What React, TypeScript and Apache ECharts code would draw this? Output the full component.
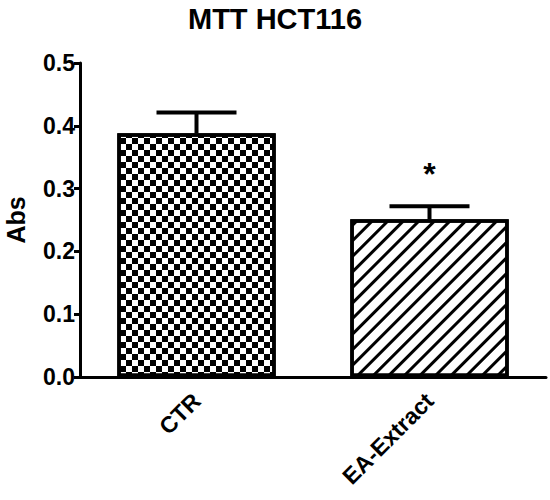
import React, { useEffect, useRef } from 'react';
import * as echarts from 'echarts';

const categories = ['CTR', 'EA-Extract'];
const means = [0.388, 0.251];
const errors = [0.033, 0.021];
const significance = ['', '*'];
const yMin = 0;
const yMax = 0.5;
const yStep = 0.1;

const FONT = '"Liberation Sans", Arial, sans-serif';

export default function App() {
  const ref = useRef<HTMLDivElement>(null);
  useEffect(() => {
    document.body.style.margin = '0';
    if (!ref.current) return;
    const chart = echarts.init(ref.current, null, { renderer: 'svg' });
    const decals = [
      {
        symbol: 'rect',
        symbolSize: 1,
        color: '#000',
        dashArrayX: [[5.5, 5.5], [0, 5.5, 5.5, 0]],
        dashArrayY: [5.5, 0],
        rotation: 0,
      },
      {
        symbol: 'rect',
        symbolSize: 1,
        color: '#000',
        dashArrayX: [1, 0],
        dashArrayY: [2.8, 8],
        rotation: -Math.PI / 4,
      },
    ];
    chart.setOption({
      animation: false,
      backgroundColor: '#fff',
      title: {
        text: 'MTT HCT116',
        left: 'center',
        top: -1,
        textStyle: { fontFamily: FONT, fontWeight: 'bold', fontSize: 29, color: '#000' },
      },
      grid: {
        left: 80,
        right: 4,
        top: 63,
        bottom: 123,
        containLabel: false,
        outerBoundsMode: 'none',
      },
      xAxis: {
        type: 'category',
        data: categories,
        axisLine: { lineStyle: { color: '#000', width: 3 } },
        axisTick: { alignWithLabel: true, length: 8, lineStyle: { color: '#000', width: 3 } },
        axisLabel: {
          rotate: 45,
          margin: 20,
          color: '#000',
          fontFamily: FONT,
          fontWeight: 'bold',
          fontSize: 23,
        },
      },
      yAxis: {
        type: 'value',
        min: yMin,
        max: yMax,
        interval: yStep,
        name: 'Abs',
        nameLocation: 'middle',
        nameGap: 52,
        nameTextStyle: { fontFamily: FONT, fontWeight: 'bold', fontSize: 25, color: '#000' },
        splitLine: { show: false },
        axisLine: { show: true, lineStyle: { color: '#000', width: 3 } },
        axisTick: { show: true, length: 6, lineStyle: { color: '#000', width: 3 } },
        axisLabel: {
          margin: 5,
          color: '#000',
          fontFamily: FONT,
          fontWeight: 'bold',
          fontSize: 23,
          formatter: (v: number) => v.toFixed(1),
        },
      },
      series: [
        {
          type: 'bar',
          barWidth: '68%',
          data: means.map((m, i) => ({
            value: m,
            itemStyle: {
              color: '#fff',
              borderColor: '#000',
              borderWidth: 3.5,
              decal: decals[i],
            },
          })),
        },
        {
          type: 'custom',
          z: 5,
          data: means.map((m, i) => [i, m, errors[i]]),
          renderItem: (params: any, api: any) => {
            const x = api.value(0);
            const m = api.value(1);
            const e = api.value(2);
            const top = api.coord([x, m + e]);
            const base = api.coord([x, m]);
            const sig = significance[params.dataIndex];
            return {
              type: 'group',
              children: [
                {
                  type: 'line',
                  shape: { x1: top[0], y1: top[1], x2: base[0], y2: base[1] },
                  style: { stroke: '#000', lineWidth: 4 },
                },
                {
                  type: 'line',
                  shape: { x1: top[0] - 40, y1: top[1], x2: top[0] + 40, y2: top[1] },
                  style: { stroke: '#000', lineWidth: 4 },
                },
                {
                  type: 'text',
                  x: top[0],
                  y: top[1] - 32,
                  style: {
                    text: sig,
                    fill: '#000',
                    font: `bold 32px ${FONT}`,
                    textAlign: 'center',
                    textVerticalAlign: 'middle',
                  },
                },
              ],
            };
          },
        },
      ],
    });
    return () => chart.dispose();
  }, []);
  return <div ref={ref} style={{ width: 550, height: 500 }} />;
}
